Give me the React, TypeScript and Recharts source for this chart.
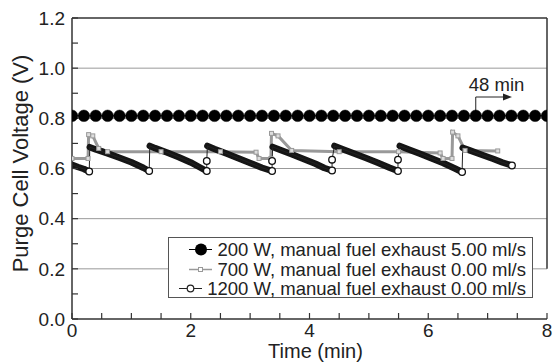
import { LineChart, Line, XAxis, YAxis, ReferenceLine, ReferenceDot, Legend, Label } from 'recharts';

const FONT = '"Liberation Sans", Arial, Helvetica, sans-serif';

// 200 W, constant purge voltage
const T_200 = [0, 0.2, 0.4, 0.6, 0.8, 1.0, 1.2, 1.4, 1.6, 1.8, 2.0, 2.2, 2.4, 2.6, 2.8, 3.0, 3.2, 3.4, 3.6, 3.8, 4.0,
    4.2, 4.4, 4.6, 4.8, 5.0, 5.2, 5.4, 5.6, 5.8, 6.0, 6.2, 6.4, 6.6, 6.8, 7.0, 7.2, 7.4, 7.6, 7.8, 8.0];
const V_200 = [0.81, 0.81, 0.81, 0.81, 0.81, 0.81, 0.81, 0.81, 0.81, 0.81, 0.81, 0.81, 0.81, 0.81, 0.81, 0.81, 0.81,
    0.81, 0.81, 0.81, 0.81, 0.81, 0.81, 0.81, 0.81, 0.81, 0.81, 0.81, 0.81, 0.81, 0.81, 0.81, 0.81, 0.81, 0.81, 0.81,
    0.81, 0.81, 0.81, 0.81, 0.81];

// 700 W, grey trace with three spikes
const T_700 = [0, 0.27, 0.28, 0.35, 0.45, 0.6, 1.5, 2.5, 3.1, 3.15, 3.35, 3.36, 3.47, 3.7, 4.5, 5.5, 6.2, 6.25, 6.4,
    6.41, 6.5, 6.62, 7.17];
const V_700 = [0.64, 0.64, 0.735, 0.73, 0.68, 0.667, 0.667, 0.667, 0.665, 0.64, 0.64, 0.74, 0.73, 0.672, 0.667,
    0.667, 0.662, 0.64, 0.64, 0.745, 0.73, 0.672, 0.67];

// 1200 W, sawtooth
const T_1200 = [0, 0.1, 0.2, 0.29,
    0.3, 0.4, 0.6, 0.8, 1.0, 1.2, 1.3,
    1.31, 1.4, 1.6, 1.8, 2.0, 2.15, 2.27, 2.27,
    2.28, 2.4, 2.6, 2.8, 3.0, 3.2, 3.37, 3.37,
    3.38, 3.5, 3.7, 3.9, 4.1, 4.25, 4.38, 4.38,
    4.42, 4.55, 4.75, 4.95, 5.15, 5.35, 5.49, 5.49,
    5.52, 5.65, 5.85, 6.05, 6.25, 6.45, 6.57,
    6.58, 6.7, 6.9, 7.1, 7.25, 7.41];
const V_1200 = [0.615, 0.606, 0.598, 0.588,
    0.685, 0.676, 0.66, 0.643, 0.625, 0.603, 0.59,
    0.69, 0.681, 0.664, 0.645, 0.624, 0.605, 0.59, 0.63,
    0.69, 0.678, 0.66, 0.641, 0.622, 0.603, 0.59, 0.63,
    0.686, 0.675, 0.657, 0.638, 0.619, 0.602, 0.592, 0.635,
    0.69, 0.678, 0.66, 0.642, 0.623, 0.603, 0.59, 0.635,
    0.69, 0.678, 0.66, 0.641, 0.622, 0.6, 0.586,
    0.682, 0.672, 0.655, 0.638, 0.624, 0.612];

const NAMES = [
    '200 W, manual fuel exhaust 5.00 ml/s',
    '700 W, manual fuel exhaust 0.00 ml/s',
    '1200 W, manual fuel exhaust 0.00 ml/s',
];

const X_TICKS = [0, 0.5, 1, 1.5, 2, 2.5, 3, 3.5, 4, 4.5, 5, 5.5, 6, 6.5, 7, 7.5, 8];
const Y_TICKS = [0, 0.1, 0.2, 0.3, 0.4, 0.5, 0.6, 0.7, 0.8, 0.9, 1.0, 1.1, 1.2];
const GRID_V = [0.2, 0.4, 0.6, 0.8, 1.0];

const d200 = T_200.map((t, i) => ({ t, v: V_200[i] }));
const d700 = T_700.map((t, i) => ({ t, v: V_700[i] }));
const d1200 = T_1200.map((t, i) => ({ t, v: V_1200[i] }));

// thick band only on the decaying parts, break where the voltage jumps up
const band1200: { t: number, v: number | null }[] = [];
d1200.forEach((p, i) => {
    if (i > 0 && p.v > d1200[i - 1].v) band1200.push({ t: p.t, v: null });
    band1200.push(p);
});

const tickStyle = { fontSize: 19, fill: '#222', fontFamily: FONT };

function LegendIcon({ idx }: { idx: number }) {
    return <svg width={30} height={19} style={{ display: 'block', flex: 'none' }}>
        {idx === 0 && <>
            <line x1={2} y1={9.5} x2={25} y2={9.5} stroke="#000" strokeWidth={1} />
            <circle cx={14} cy={9.5} r={6} fill="#000" />
        </>}
        {idx === 1 && <>
            <line x1={2} y1={9.5} x2={25} y2={9.5} stroke="#999" strokeWidth={1.5} />
            <rect x={11.5} y={7.5} width={4} height={4} fill="#fff" stroke="#999" />
        </>}
        {idx === 2 && <>
            <line x1={2} y1={9.5} x2={25} y2={9.5} stroke="#222" strokeWidth={1} />
            <circle cx={13.5} cy={9.5} r={3.3} fill="#fff" stroke="#222" strokeWidth={1.2} />
        </>}
    </svg>;
}

export default function App() {
    return <div style={{ position: 'absolute', left: 0, top: 0, width: 555, height: 363, background: '#fff', fontFamily: FONT }}>
        <LineChart width={555} height={363} margin={{ top: 18, right: 8, bottom: 0, left: 0 }}>
            <XAxis
                dataKey="t"
                type="number"
                domain={[0, 8]}
                ticks={X_TICKS}
                interval={0}
                allowDataOverflow
                height={44}
                tickSize={-6}
                tickMargin={11}
                tick={tickStyle}
                tickLine={{ stroke: '#333', strokeWidth: 1.2 }}
                axisLine={{ stroke: '#333', strokeWidth: 1.5 }}
                tickFormatter={(v: number) => (Math.abs(v - Math.round(v)) < 1e-6 && Math.round(v) % 2 === 0 ? String(Math.round(v)) : '')}
            >
                <Label content={(p: any) => {
                    const vb = p.viewBox;
                    return <text x={vb.x + vb.width / 2 + 6} y={vb.y + 39} textAnchor="middle" style={{ fontSize: 20, fill: '#222', fontFamily: FONT }}>Time (min)</text>;
                }} />
            </XAxis>
            <YAxis
                dataKey="v"
                type="number"
                domain={[0, 1.2]}
                ticks={Y_TICKS}
                interval={0}
                allowDataOverflow
                width={72}
                tickSize={-6}
                tickMargin={13}
                tick={tickStyle}
                tickLine={{ stroke: '#333', strokeWidth: 1.2 }}
                axisLine={{ stroke: '#333', strokeWidth: 1.5 }}
                tickFormatter={(v: number) => (Math.round(v * 10) % 2 === 0 ? v.toFixed(1) : '')}
            >
                <Label content={(p: any) => {
                    const vb = p.viewBox;
                    const x = 20;
                    const y = vb.y + vb.height / 2 - 5;
                    return <text x={x} y={y} textAnchor="middle" dominantBaseline="central" transform={`rotate(-90, ${x}, ${y})`}
                        style={{ fontSize: 22, fill: '#222', fontFamily: FONT }}>Purge Cell Voltage (V)</text>;
                }} />
            </YAxis>

            {GRID_V.map(g => <ReferenceLine key={g} y={g} stroke="#999" strokeWidth={1} />)}
            <ReferenceLine y={1.2} stroke="#333" strokeWidth={1.5} />
            <ReferenceLine segment={[{ x: 8, y: 0.2 }, { x: 8, y: 1.2 }]} stroke="#333" strokeWidth={1.5} />

            {/* 48 min marker */}
            <ReferenceLine segment={[{ x: 6.8, y: 0.81 }, { x: 6.8, y: 0.885 }]} stroke="#222" strokeWidth={1} />
            <ReferenceLine segment={[{ x: 6.8, y: 0.885 }, { x: 7.36, y: 0.885 }]} stroke="#222" strokeWidth={1} />
            <ReferenceDot x={7.41} y={0.885} r={0} shape={(p: any) => (
                <path d={`M${p.cx},${p.cy} l-9,-3.5 l0,7 z`} fill="#222" />
            )} />
            <ReferenceDot x={7.15} y={0.935} r={0} shape={(p: any) => (
                <text x={p.cx} y={p.cy} textAnchor="middle" dominantBaseline="central" style={{ fontSize: 18.5, fill: '#222', fontFamily: FONT }}>48 min</text>
            )} />

            <Line data={d700} dataKey="v" name={NAMES[1]} type="linear" stroke="#999" strokeWidth={3}
                isAnimationActive={false}
                dot={(p: any) => <rect key={`s${p.index}`} x={p.cx - 2} y={p.cy - 2} width={4} height={4} fill="#ddd" stroke="#999" strokeWidth={1} />} />

            <Line data={band1200} dataKey="v" name="band" legendType="none" type="linear" stroke="#151515" strokeWidth={6.5}
                strokeLinecap="round" strokeLinejoin="round" connectNulls={false} dot={false} isAnimationActive={false} />
            <Line data={d1200} dataKey="v" name={NAMES[2]} type="linear" stroke="#222" strokeWidth={1}
                isAnimationActive={false}
                dot={(p: any) => {
                    const i = p.index;
                    const show = i === V_1200.length - 1 || V_1200[i + 1] > V_1200[i];
                    return show
                        ? <circle key={`c${i}`} cx={p.cx} cy={p.cy} r={3.3} fill="#fff" stroke="#111" strokeWidth={1.3} />
                        : <g key={`c${i}`} />;
                }} />

            <Line data={d200} dataKey="v" name={NAMES[0]} type="linear" stroke="#000" strokeWidth={1}
                isAnimationActive={false}
                dot={{ r: 5.8, fill: '#000', stroke: '#000', strokeWidth: 0.5 }} />

            <Legend
                layout="horizontal"
                verticalAlign="middle"
                align="center"
                wrapperStyle={{ left: 168, top: 237, width: 367, height: 63 }}
                content={() => (
                    <div style={{ width: 365, height: 61, border: '1px solid #555', background: '#fff', paddingTop: 2, boxSizing: 'border-box' }}>
                        {NAMES.map((n, i) => (
                            <div key={n} style={{ display: 'flex', alignItems: 'center', justifyContent: 'flex-end', height: 19.5, paddingRight: 6 }}>
                                <LegendIcon idx={i} />
                                <span style={{ fontSize: 18.5, color: '#222', fontFamily: FONT, whiteSpace: 'nowrap', lineHeight: '19px' }}>{n}</span>
                            </div>
                        ))}
                    </div>
                )}
            />
        </LineChart>
    </div>;
}
